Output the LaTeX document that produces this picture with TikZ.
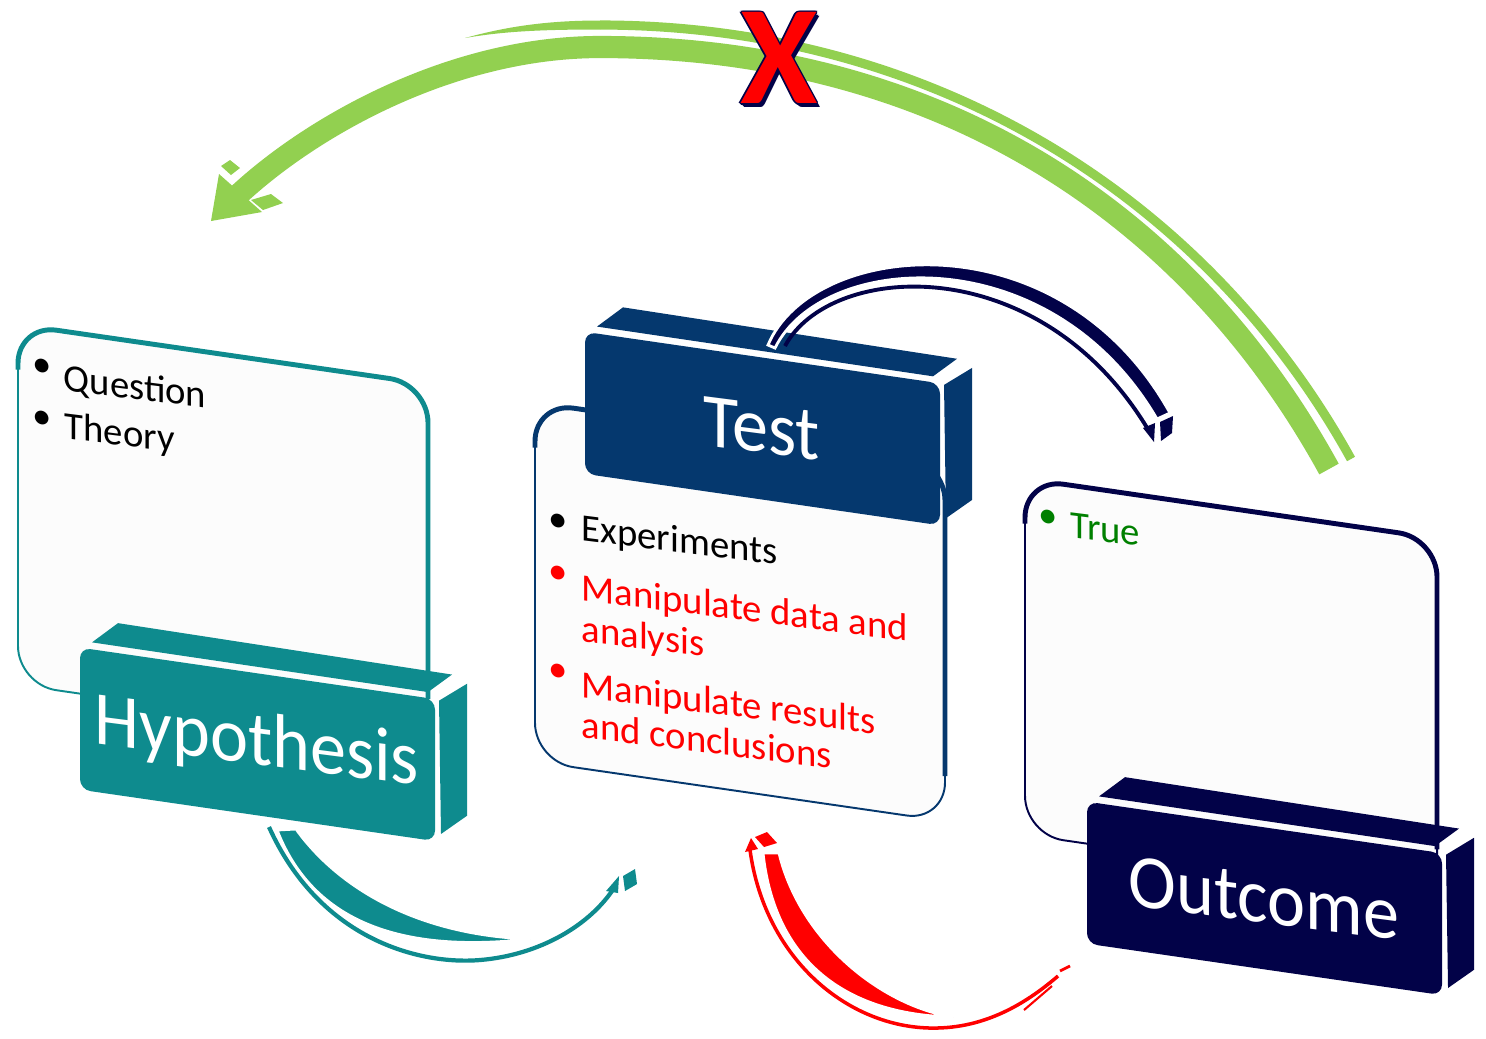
\documentclass[tikz,border=0pt]{standalone}
\usepackage{fontspec}
\setmainfont{Carlito}
\usepackage{tikz}

\definecolor{hypTeal}{RGB}{14,139,142}
\definecolor{tstBlue}{RGB}{5,56,110}
\definecolor{outNavy}{RGB}{2,2,72}
\definecolor{loopGreen}{RGB}{146,208,80}
\definecolor{panelFill}{RGB}{252,252,252}
\definecolor{trueGreen}{RGB}{0,128,0}

\tikzset{
  panel/.style={fill=panelFill, line width=0.55pt, rounded corners=11pt},
  rim/.style={line width=1.4pt, rounded corners=11pt},
  headtext/.style={font=\fontsize{20.5pt}{22pt}\selectfont, text=white, inner sep=0pt, yscale=1.06, yslant=0.015},
  bodytext/.style={font=\fontsize{11pt}{12pt}\selectfont, anchor=base west, inner sep=0pt, yslant=0.02},
  bulletdot/.style={font=\fontsize{11pt}{12pt}\selectfont, inner sep=0pt},
  xmark/.style={font=\fontsize{40pt}{40pt}\selectfont\bfseries, inner sep=0pt},
}

% panel: x0, y0, x1, y1, colour
\newcommand{\panelbox}[5]{%
  \draw[panel, draw=#5] (#1,#2) rectangle (#3,#4);
  \draw[rim, draw=#5] (#1,#2+45) -- (#1,#2) -- (#3,#2) -- (#3,#4-45);
}
% header block: name, x, y (front top left), colour, text
\newcommand{\headerbox}[5]{%
  \fill[#4] (#2+12,#3-7) -- (#2+38,#3-30) -- (#2+372,#3-27) -- (#2+348,#3-6) -- cycle;
  \fill[#4] (#2+359,#3+1) -- (#2+387,#3-20) -- (#2+387,#3+112) -- (#2+361,#3+134) -- cycle;
  \fill[#4, rounded corners=3pt] (#2,#3) rectangle (#2+355,#3+142);
  \node[headtext] (#1) at (#2+177,#3+71) {#5};
}

\begin{document}
\begin{tikzpicture}[x=0.01cm, y=-0.01cm]
\fill[white] (0,0) rectangle (1486,1038);

% the three cards, in the slanted plane
\begin{scope}[yslant=-0.145, transform shape]
\panelbox{18}{322}{428}{682}{hypTeal}
\panelbox{535}{325}{945}{684}{tstBlue}
\panelbox{1025}{330}{1437}{686}{outNavy}

\headerbox{hyp}{80}{636}{hypTeal}{Hypothesis}
\headerbox{tst}{585}{247}{tstBlue}{Test}
\headerbox{out}{1087}{644}{outNavy}{Outcome}

% Hypothesis card
\node[bulletdot] (hb1) at (42,362) {•};
\node[bodytext] (h1) at (63,381) {Question};
\node[bulletdot] (hb2) at (42,414) {•};
\node[bodytext] (h2) at (64,429) {Theory};

% Test card
\node[bulletdot] (tb1) at (558,442) {•};
\node[bodytext] (t1) at (581,456) {Experiments};
\node[bulletdot, text=red] (tb2) at (558,494) {•};
\node[bodytext, text=red] (t2) at (581,516) {Manipulate data and};
\node[bodytext, text=red] (t3) at (581,557) {analysis};
\node[bulletdot, text=red] (tb3) at (558,592) {•};
\node[bodytext, text=red] (t4) at (581,613) {Manipulate results};
\node[bodytext, text=red] (t5) at (581,653) {and conclusions};

% Outcome card
\node[bulletdot, text=trueGreen] (ob1) at (1048,367) {•};
\node[bodytext, text=trueGreen] (o1) at (1070,382) {True};
\end{scope}

% green arrow back to Hypothesis
\fill[loopGreen] (600,20.5) .. controls (545,20.5) and (505,27) .. (465,38) .. controls (505,31) and (545,29.5) .. (600,29.5) -- cycle;
\draw[loopGreen, line width=2.6pt] (1351,459) .. controls (1205,195) and (930,25) .. (600,25);
\draw[loopGreen, line width=6.3pt] (1329,469) .. controls (1184,205) and (930,47) .. (600,47) .. controls (450,47) and (309,128) .. (236,197);
\fill[loopGreen] (211,221) -- (219,174) -- (262,212) -- cycle;
\fill[loopGreen] (221,166) -- (230,160) -- (240,168) -- (231,175) -- cycle;
\fill[loopGreen] (251,200) -- (271,194) -- (283,203) -- (263,210) -- cycle;

% the red X on top of it
\foreach \dx/\dy [count=\k] in {-1.6/0, 1.6/0, 0/-1.6, 0/1.6, -1.2/-1.2, 1.2/-1.2, -1.2/1.2, 1.2/1.2, 2.5/2.5, 3.5/3.5}
  \node[xmark, text=outNavy] (xrim\k) at (779+\dx,58+\dy) {X};
\node[xmark, text=red] (nope) at (779,58) {X};

% Test to Outcome
\filldraw[fill=outNavy, draw=white, line width=0.8pt] (768,345) .. controls (812,240) and (1060,215) .. (1170,413) -- (1157,419) .. controls (1050,236) and (822,252) .. (775,348) -- cycle;
\draw[outNavy, line width=1.1pt] (785,346) .. controls (830,262) and (1040,248) .. (1149,431);
\fill[outNavy] (1143,428) -- (1155,423) -- (1154,442) -- cycle;
\fill[outNavy] (1160,422) -- (1173,416) -- (1172,433) -- (1161,441) -- cycle;

% Hypothesis to Test
\filldraw[fill=hypTeal, draw=white, line width=0.8pt] (277,830) .. controls (310,915) and (390,955) .. (530,939) .. controls (420,935) and (340,890) .. (296,829) -- cycle;
\draw[hypTeal, line width=1.2pt] (269,827) .. controls (320,940) and (420,965) .. (480,960) .. controls (540,955) and (590,925) .. (614,888);
\fill[hypTeal] (606,891) -- (619,876) -- (618,893) -- cycle;
\fill[hypTeal] (623,876) -- (635,869) -- (637,884) -- (625,891) -- cycle;

% Outcome back to Test
\filldraw[fill=red, draw=white, line width=0.8pt] (763,853) .. controls (775,965) and (850,1015) .. (953,1017) .. controls (880,1005) and (800,940) .. (779,853) -- cycle;
\draw[red, line width=1pt] (750,850) .. controls (765,960) and (850,1030) .. (937,1028) .. controls (990,1027) and (1030,1000) .. (1058,976);
\draw[red, line width=0.8pt] (1060,971) -- (1070,966);
\draw[red, line width=0.6pt] (1024,1010) -- (1052,986);
\fill[red] (745,852) -- (751,838) -- (758,849) -- cycle;
\fill[red] (755,837) -- (767,832) -- (777,843) -- (764,847) -- cycle;

\end{tikzpicture}
\end{document}
